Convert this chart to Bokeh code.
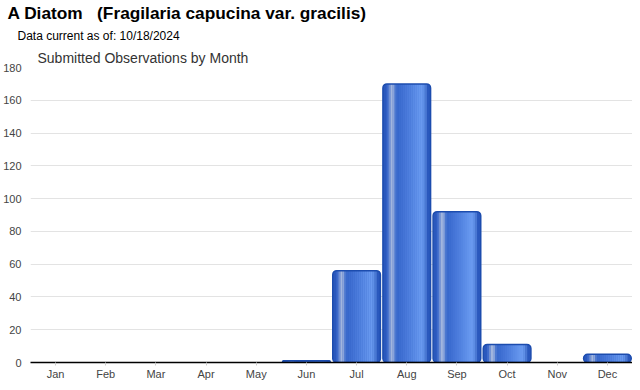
from bokeh.plotting import figure
from bokeh.models import Range1d, FixedTicker, Title, ColumnDataSource
from bokeh.transform import dodge
from bokeh.embed import file_html
from bokeh.resources import INLINE

months = ["Jan", "Feb", "Mar", "Apr", "May", "Jun", "Jul", "Aug", "Sep", "Oct", "Nov", "Dec"]
counts = [0, 0, 0, 0, 0, 1, 56, 170, 92, 11, 0, 5]
y_ticks = [0, 20, 40, 60, 80, 100, 120, 140, 160, 180]

main_title = "A Diatom\u00a0\u00a0 (Fragilaria capucina var. gracilis)"
sub_title = "Data current as of: 10/18/2024"
chart_title = "Submitted Observations by Month"

bar_m = [m for m, c in zip(months, counts) if c > 0]
bar_c = [c for c in counts if c > 0]
src = ColumnDataSource(dict(month=bar_m, count=bar_c))

p = figure(x_range=months, y_range=Range1d(0, 180), width=632, height=382,
           output_backend="svg", toolbar_location=None,
           min_border_left=0, min_border_right=0, min_border_top=0, min_border_bottom=0)
p.outline_line_color = None
p.background_fill_color = "white"

p.title.text = main_title
p.title.text_font = "Liberation Sans"
p.title.text_font_size = "17.3px"
p.title.text_font_style = "bold"
p.title.text_color = "#000000"
p.title.offset = -23
p.title.standoff = 0

t_inner = Title(text=chart_title, text_font="Liberation Sans", text_font_size="14px",
                text_font_style="normal", text_color="#333333", offset=7, standoff=3)
p.add_layout(t_inner, "above")
t_sub = Title(text=sub_title, text_font="Liberation Sans", text_font_size="12px",
              text_font_style="normal", text_color="#000000", offset=-13, standoff=8)
p.add_layout(t_sub, "above")

# bars: base shape
W = 0.95
p.vbar(x="month", top="count", bottom=0, width=W, source=src,
       fill_color="#2a58bd", line_color=None, border_radius=4)
# gradient stripes (inner part of each bar)
stripe_colors = ["#3d6acb", "#7090d4", "#a2b6de", "#8aa4da", "#4c78d0", "#3a6acd",
                 "#3c6dd0", "#4070d3", "#4474d6", "#4878d9", "#4c7cdc", "#5080df",
                 "#5485e2", "#598ae5", "#5d8ee8", "#6293eb", "#6697ee", "#6999ef",
                 "#5f8fe6", "#4a78d3"]
n = len(stripe_colors)
inner = 0.80
sw = inner / n
for i, col in enumerate(stripe_colors):
    off = -inner / 2 + sw * (i + 0.5)
    p.vbar(x=dodge("month", off, range=p.x_range), top="count", bottom=0, width=sw * 1.1,
           source=src, fill_color=col, line_color=None)
# outline
p.vbar(x="month", top="count", bottom=0, width=W, source=src,
       fill_color=None, line_color="#1c4cae", line_width=1.5, border_radius=4)

p.yaxis.ticker = FixedTicker(ticks=y_ticks)
p.yaxis.axis_line_color = None
p.yaxis.major_tick_line_color = None
p.yaxis.minor_tick_line_color = None
p.yaxis.major_label_standoff = 3
p.yaxis.major_label_text_font = "Liberation Sans"
p.yaxis.major_label_text_font_size = "11px"
p.yaxis.major_label_text_color = "#444444"

p.xaxis.axis_line_color = "#000000"
p.xaxis.axis_line_width = 1.5
p.xaxis.major_tick_line_color = "#cccccc"
p.xaxis.major_tick_out = 3
p.xaxis.major_tick_in = 0
p.xaxis.major_label_standoff = 2
p.xaxis.major_label_text_font = "Liberation Sans"
p.xaxis.major_label_text_font_size = "11px"
p.xaxis.major_label_text_color = "#444444"

p.xgrid.grid_line_color = None
p.ygrid.grid_line_color = "#e3e3e3"
p.ygrid.grid_line_width = 1

open("out.html", "w").write(file_html(p, INLINE))
